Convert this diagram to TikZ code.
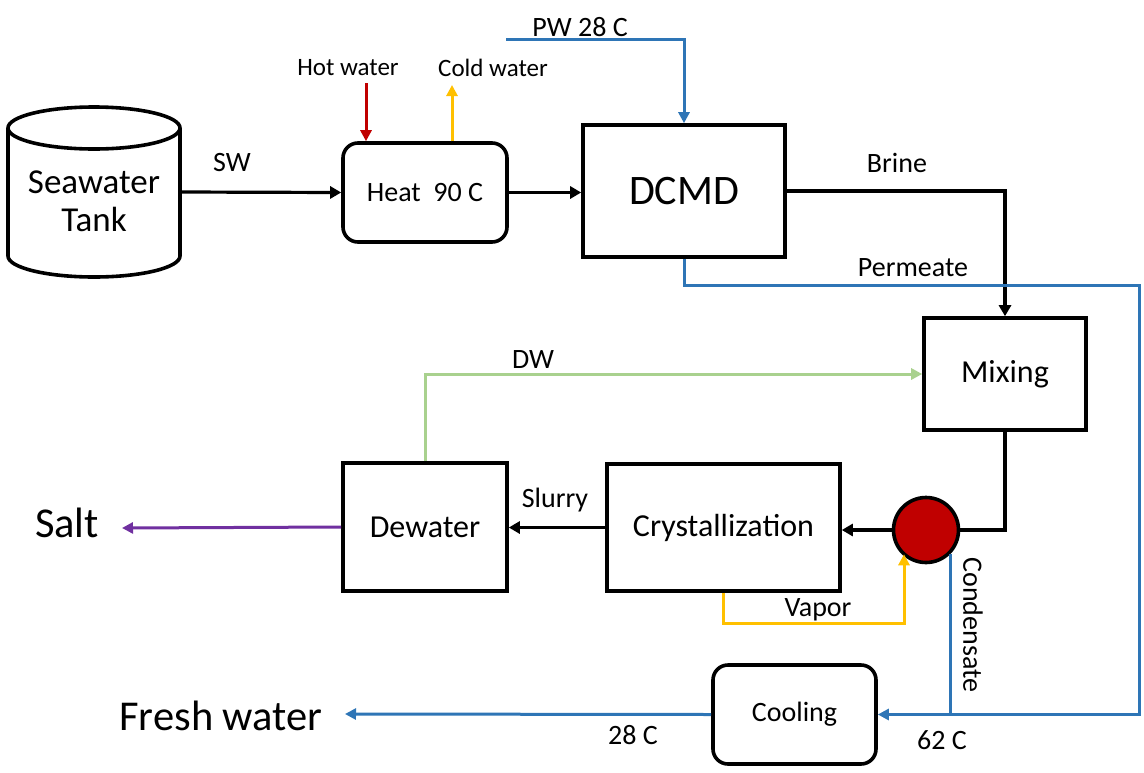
\documentclass[tikz,border=0pt]{standalone}
\usepackage{fontspec}
\setmainfont{Carlito}
\usetikzlibrary{arrows.meta,calc}
\definecolor{cred}{HTML}{C00000}
\definecolor{cyel}{HTML}{FFC000}
\definecolor{cblue}{HTML}{2E75B6}
\definecolor{cgreen}{HTML}{A9D18E}
\definecolor{cpurp}{HTML}{7030A0}
\tikzset{
  blk/.style={draw=black, line width=3.6pt, fill=white, inner sep=0pt, align=center},
  rbox/.style={blk, rounded corners=15pt},
  flow/.style={line width=3.2pt, -{Triangle[length=11pt,width=12pt]}},
  cflow/.style={line width=3pt, -{Triangle[length=11pt,width=11pt]}},
  plain/.style={line width=3pt},
  lbl/.style={font=\fontsize{28}{33}\selectfont, inner sep=0pt},
  mlbl/.style={font=\fontsize{32}{38}\selectfont},
  big/.style={font=\fontsize{42.5}{50}\selectfont, inner sep=0pt},
}
\begin{document}
\begin{tikzpicture}[x=1pt,y=-1pt]
\useasboundingbox (0,0) rectangle (1144,772);
% tank
\node[minimum width=172pt, minimum height=170pt, inner sep=0pt] (tank) at (94,192) {};
\draw[line width=3.6pt, fill=white] (8,128) -- (8,256) arc[start angle=180, end angle=360, x radius=86pt, y radius=21pt] -- (180,128);
\draw[line width=3.6pt] (94,128) ellipse [x radius=86pt, y radius=21pt];
\node[font=\fontsize{35}{38}\selectfont, align=center, inner sep=0pt] (tanktxt) at (94,201) {Seawater\\Tank};
% boxes
\node[rbox, minimum width=164pt, minimum height=99pt, font=\fontsize{28}{34}\selectfont] (heat) at (425,192.5) {Heat\ \ 90 C};
\node[blk, minimum width=202pt, minimum height=132pt, font=\fontsize{42}{50}\selectfont] (dcmd) at (684,191) {DCMD};
\node[blk, mlbl, minimum width=162pt, minimum height=112pt] (mixing) at (1005,374) {Mixing};
\node[blk, mlbl, minimum width=233pt, minimum height=127pt] (crys) at (723.5,527.5) {Crystallization};
\node[blk, mlbl, minimum width=164pt, minimum height=128pt] (dewater) at (425,527) {Dewater};
\node[rbox, minimum width=163pt, minimum height=99pt, font=\fontsize{28}{34}\selectfont] (cooling) at (794.5,714.5) {Cooling};
\node[circle, draw=black, line width=3.6pt, fill=cred, minimum size=65pt, inner sep=0pt] (circ) at (926,530) {};
% end labels
\node[big] (salt) at (67,523) {Salt};
\node[big] (fresh) at (221,716) {Fresh water};
% free ends
\coordinate (hotin) at (366,83);
\coordinate (coldout) at (452,85);
\coordinate (pwin) at (506,39);
\coordinate (permR) at (1139,285);
\coordinate (vapB) at (904,623);
\coordinate (saltend) at (122,528);
\coordinate (freshend) at (345,714);
% connectors
\draw[flow] (tank.east) -- (heat.west);
\draw[cflow, draw=cred] (hotin) -- (hotin |- heat.north);
\draw[cflow, draw=cyel] (coldout |- heat.north) -- (coldout);
\draw[flow] (heat.east) -- (heat.east -| dcmd.west);
\draw[cflow, draw=cblue] (pwin) -| (dcmd.north);
\draw[flow] (dcmd.east) -| (mixing.north);
\draw[cflow, draw=cblue] (dcmd.south) |- (permR) |- (cooling.east);
\draw[cflow, draw=cgreen] (dewater.north) |- (mixing.west);
\draw[line width=3.2pt] (mixing.south) |- (circ.east);
\draw[flow] (circ.west) -- (circ.west -| crys.east);
\draw[flow] (crys.west) -- (crys.west -| dewater.east);
\draw[cflow, draw=cpurp] (dewater.west) -- (saltend);
\draw[cflow, draw=cyel] (crys.south) |- (vapB) -- (vapB |- circ.south west);
\draw[plain, draw=cblue] (circ.south east) -- (circ.south east |- cooling.east);
\draw[cflow, draw=cblue] (cooling.west) -- (freshend);
% labels
\node[lbl] (lsw) at (232,163) {SW};
\node[lbl, font=\fontsize{25}{30}\selectfont] (lhot) at (348,68) {Hot water};
\node[lbl, font=\fontsize{25}{30}\selectfont] (lcold) at (493,68) {Cold water};
\node[lbl] (lpw) at (580,27) {PW 28 C};
\node[lbl] (lbrine) at (897,163) {Brine};
\node[lbl] (lperm) at (913,268) {Permeate};
\node[lbl] (ldw) at (533,360) {DW};
\node[lbl] (lslurry) at (555,500) {Slurry};
\node[lbl] (lvapor) at (818,610) {Vapor};
\node[lbl, rotate=-90] (lcond) at (973,625) {Condensate};
\node[lbl] (l28) at (633,735) {28 C};
\node[lbl] (l62) at (942,740) {62 C};
\end{tikzpicture}
\end{document}
